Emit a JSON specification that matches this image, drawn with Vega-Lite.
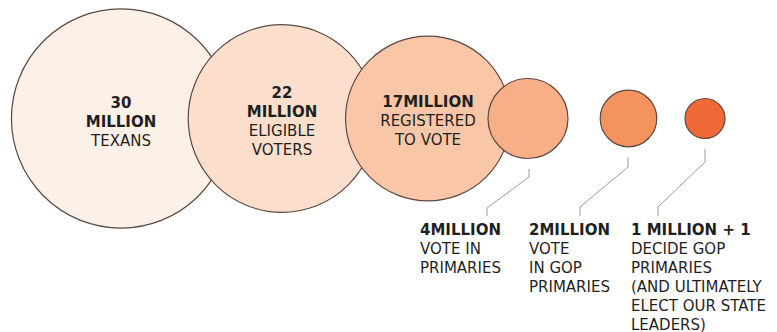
{
  "$schema": "https://vega.github.io/schema/vega-lite/v6.json",
  "width": 777,
  "height": 332,
  "padding": 0,
  "autosize": {"type": "none"},
  "background": "white",
  "config": {
    "view": {"stroke": null},
    "text": {"font": "DejaVu Sans", "fontSize": 15, "color": "#1f1f1f"}
  },
  "datasets": {
    "stages": [
      {"stage": 1, "millions": 30, "placement": "inside", "headline": "30\nMILLION", "detail": "TEXANS"},
      {"stage": 2, "millions": 22, "placement": "inside", "headline": "22\nMILLION", "detail": "ELIGIBLE\nVOTERS"},
      {"stage": 3, "millions": 17, "placement": "inside", "headline": "17MILLION", "detail": "REGISTERED\nTO VOTE"},
      {"stage": 4, "millions": 4, "placement": "below", "headline": "4MILLION", "detail": "VOTE IN\nPRIMARIES"},
      {"stage": 5, "millions": 2, "placement": "below", "headline": "2MILLION", "detail": "VOTE\nIN GOP\nPRIMARIES"},
      {"stage": 6, "millions": 1, "placement": "below", "headline": "1 MILLION + 1", "detail": "DECIDE GOP\nPRIMARIES\n(AND ULTIMATELY\nELECT OUR STATE\nLEADERS)"}
    ],
    "leaders": [
      {"stage": 4, "node": 1}, {"stage": 4, "node": 2}, {"stage": 4, "node": 3}, {"stage": 4, "node": 4},
      {"stage": 5, "node": 5}, {"stage": 5, "node": 6}, {"stage": 5, "node": 7}, {"stage": 5, "node": 8},
      {"stage": 6, "node": 9}, {"stage": 6, "node": 10}, {"stage": 6, "node": 11}, {"stage": 6, "node": 12}
    ]
  },
  "resolve": {"scale": {"x": "independent", "y": "independent"}},
  "layer": [
    {
      "data": {"name": "leaders"},
      "mark": {"type": "line", "color": "#9c9c9c", "strokeWidth": 1},
      "encoding": {
        "x": {"field": "node", "type": "quantitative", "axis": null,
              "scale": {"domain": [1,2,3,4,5,6,7,8,9,10,11,12], "range": [529,529,487,487,628,628,580,580,705,705,658,658], "zero": false, "nice": false}},
        "y": {"field": "node", "type": "quantitative", "axis": null,
              "scale": {"domain": [1,2,3,4,5,6,7,8,9,10,11,12], "range": [169,177,208,216,157,167,207,216,149,162,207,216], "zero": false, "nice": false}},
        "detail": {"field": "stage", "type": "nominal"},
        "order": {"field": "node", "type": "quantitative"}
      }
    },
    {
      "data": {"name": "stages"},
      "mark": {"type": "point", "shape": "circle", "filled": true, "opacity": 1, "stroke": "#5a4841", "strokeWidth": 1.2},
      "encoding": {
        "x": {"field": "stage", "type": "quantitative", "axis": null,
              "scale": {"domain": [1,2,3,4,5,6], "range": [121,282,428,528,628.5,705], "zero": false, "nice": false}},
        "y": {"datum": "circle", "type": "nominal", "axis": null,
              "scale": {"type": "point", "domain": ["circle", "caption"], "range": [118.5, 235], "padding": 0}},
        "size": {"field": "millions", "type": "quantitative", "legend": null,
                 "scale": {"domain": [0, 30], "range": [0, 48000], "zero": true, "nice": false}},
        "fill": {"field": "stage", "type": "ordinal", "legend": null,
                 "scale": {"domain": [1,2,3,4,5,6], "range": ["#fdf1e7", "#fbdfcc", "#f9c7a8", "#f8ae87", "#f5935f", "#f06a37"]}}
      }
    },
    {
      "data": {"name": "stages"},
      "transform": [{"filter": "datum.placement === 'inside'"}],
      "mark": {"type": "text", "align": "center", "baseline": "middle", "lineBreak": "\n", "lineHeight": 19, "fontWeight": "bold"},
      "encoding": {
        "x": {"field": "stage", "type": "quantitative", "axis": null,
              "scale": {"domain": [1,2,3,4,5,6], "range": [121,282,428,528,628.5,705], "zero": false, "nice": false}},
        "y": {"field": "stage", "type": "quantitative", "axis": null,
              "scale": {"domain": [1, 2, 3], "range": [102.5, 92.5, 102], "zero": false, "nice": false}},
        "text": {"field": "headline", "type": "nominal"}
      }
    },
    {
      "data": {"name": "stages"},
      "transform": [{"filter": "datum.placement === 'inside'"}],
      "mark": {"type": "text", "align": "center", "baseline": "middle", "lineBreak": "\n", "lineHeight": 19},
      "encoding": {
        "x": {"field": "stage", "type": "quantitative", "axis": null,
              "scale": {"domain": [1,2,3,4,5,6], "range": [121,282,428,528,628.5,705], "zero": false, "nice": false}},
        "y": {"field": "stage", "type": "quantitative", "axis": null,
              "scale": {"domain": [1, 2, 3], "range": [140.5, 130.5, 121], "zero": false, "nice": false}},
        "text": {"field": "detail", "type": "nominal"}
      }
    },
    {
      "data": {"name": "stages"},
      "transform": [{"filter": "datum.placement === 'below'"}],
      "mark": {"type": "text", "align": "left", "baseline": "alphabetic", "lineBreak": "\n", "lineHeight": 19, "fontWeight": "bold"},
      "encoding": {
        "x": {"field": "stage", "type": "quantitative", "axis": null,
              "scale": {"domain": [4,5,6], "range": [420,529,631], "zero": false, "nice": false}},
        "y": {"datum": "headline", "type": "nominal", "axis": null,
              "scale": {"type": "point", "domain": ["headline", "detail"], "range": [234.5, 253.5], "padding": 0}},
        "text": {"field": "headline", "type": "nominal"}
      }
    },
    {
      "data": {"name": "stages"},
      "transform": [{"filter": "datum.placement === 'below'"}],
      "mark": {"type": "text", "align": "left", "baseline": "alphabetic", "lineBreak": "\n", "lineHeight": 19},
      "encoding": {
        "x": {"field": "stage", "type": "quantitative", "axis": null,
              "scale": {"domain": [4,5,6], "range": [420,529,631], "zero": false, "nice": false}},
        "y": {"datum": "detail", "type": "nominal", "axis": null,
              "scale": {"type": "point", "domain": ["headline", "detail"], "range": [234.5, 253.5], "padding": 0}},
        "text": {"field": "detail", "type": "nominal"}
      }
    }
  ]
}
